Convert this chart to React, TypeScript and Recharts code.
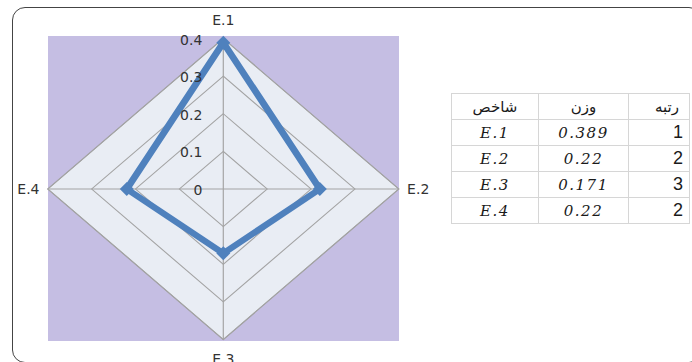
import React from 'react';
import { RadarChart, Radar, PolarGrid, PolarAngleAxis, PolarRadiusAxis } from 'recharts';

const categories = ['E.1', 'E.2', 'E.3', 'E.4'];
const weights = [0.389, 0.22, 0.171, 0.22];
const ranks = [1, 2, 3, 2];
const radiusTicks = [0, 0.1, 0.2, 0.3, 0.4];
const headers = ['شاخص', 'وزن', 'رتبه'];

const data = categories.map((c, i) => ({ name: c, value: weights[i] }));

const SX = 1.166;
const CX = 223.3;
const CY = 189;
const R = 150.5;
const FONT = '"DejaVu Sans", sans-serif';

const AngleTick = (props: any) => {
  const { x, y, payload } = props;
  const v = payload.value;
  let anchor: any = 'middle';
  let dy = 0;
  let dx = 0;
  if (v === 'E.1') { dy = -10.5; }
  else if (v === 'E.3') { dy = 11.5; }
  else if (v === 'E.2') { anchor = 'start'; dx = -1; }
  else { anchor = 'end'; dx = 1; }
  return (
    <g transform={`translate(${x},${y}) scale(${1 / SX},1)`}>
      <text x={dx} y={dy} textAnchor={anchor} dominantBaseline="central" fontFamily={FONT} fontSize={14} fill="#333">{v}</text>
    </g>
  );
};

const RadiusTick = (props: any) => {
  const { x, y, payload } = props;
  return (
    <g transform={`translate(${x},${y}) scale(${1 / SX},1)`}>
      <text x={-21} y={1} textAnchor="end" dominantBaseline="central" fontFamily={FONT} fontSize={14} fill="#333">{payload.value}</text>
    </g>
  );
};

const DiamondDot = (props: any) => {
  const { cx, cy, index } = props;
  return (
    <path key={`d${index}`} d={`M${cx},${cy - 7} L${cx + 6},${cy} L${cx},${cy + 7} L${cx - 6},${cy} Z`} fill="#4F81BD" />
  );
};

const cellBase: React.CSSProperties = {
  border: '1px solid #d6d6d6',
  height: 25,
  padding: '0 6px',
  color: '#1a1a1a',
};

export default function App() {
  return (
    <div style={{ position: 'absolute', left: 0, top: 0, width: 692, height: 362, overflow: 'hidden', background: '#fff' }}>
      <div style={{ position: 'absolute', left: 12, top: 7, width: 690, height: 356, border: '1.5px solid #444', borderRadius: 13, boxSizing: 'border-box' }} />
      <div style={{ position: 'absolute', left: 47.7, top: 36, width: 351.5, height: 305, background: '#C5BEE3' }} />
      <div style={{ position: 'absolute', left: 0, top: 0, width: 2 * CX, height: 362, transform: `scaleX(${SX})`, transformOrigin: `${CX}px ${CY}px` }}>
        <RadarChart width={2 * CX} height={362} cx={CX} cy={CY} outerRadius={R} data={data} margin={{ top: 0, right: 0, bottom: 0, left: 0 }}>
          <PolarGrid gridType="polygon" stroke="#a3a3a3" strokeWidth={1} fill="#E9EDF4" fillOpacity={1} />
          <PolarAngleAxis dataKey="name" tick={<AngleTick />} tickLine={false} axisLine={false} />
          <PolarRadiusAxis angle={90} type="number" domain={[0, 0.4]} ticks={radiusTicks} tick={<RadiusTick />} axisLine={false} tickLine={false} />
          <Radar dataKey="value" stroke="#4F81BD" strokeWidth={6} fill="none" fillOpacity={0} dot={DiamondDot} isAnimationActive={false} />
        </RadarChart>
      </div>
      <table style={{ position: 'absolute', left: 451, top: 93, width: 238, borderCollapse: 'collapse', tableLayout: 'fixed' }}>
        <colgroup>
          <col style={{ width: 87 }} />
          <col style={{ width: 90 }} />
          <col style={{ width: 61 }} />
        </colgroup>
        <tbody>
          <tr>
            <td style={{ ...cellBase, textAlign: 'center', fontFamily: FONT, fontSize: 15 }}>{headers[0]}</td>
            <td style={{ ...cellBase, textAlign: 'center', fontFamily: FONT, fontSize: 15 }}>{headers[1]}</td>
            <td style={{ ...cellBase, textAlign: 'right', fontFamily: FONT, fontSize: 15, paddingRight: 10 }}>{headers[2]}</td>
          </tr>
          {categories.map((c, i) => (
            <tr key={c}>
              <td style={{ ...cellBase, textAlign: 'center', fontFamily: '"DejaVu Serif", serif', fontStyle: 'italic', fontSize: 15, letterSpacing: 1.5 }}>{c}</td>
              <td style={{ ...cellBase, textAlign: 'center', fontFamily: '"DejaVu Serif", serif', fontStyle: 'italic', fontSize: 15, letterSpacing: 1.5 }}>{weights[i]}</td>
              <td style={{ ...cellBase, textAlign: 'right', fontFamily: '"Liberation Sans", Arial, sans-serif', fontSize: 18 }}>{ranks[i]}</td>
            </tr>
          ))}
        </tbody>
      </table>
    </div>
  );
}
